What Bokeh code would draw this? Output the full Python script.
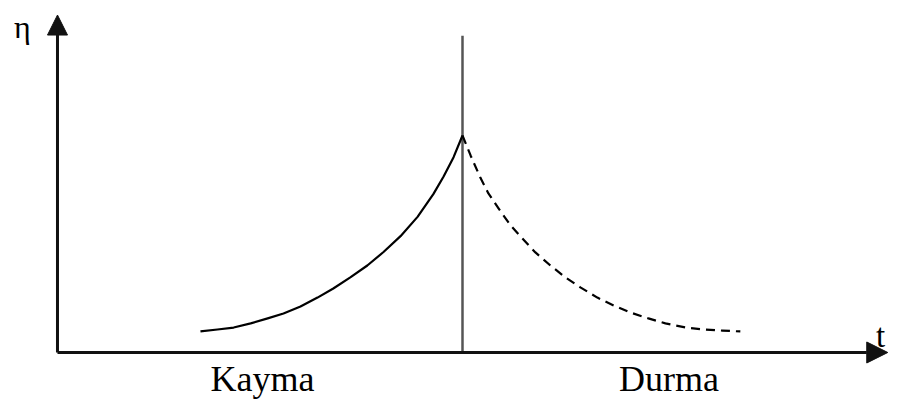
from bokeh.plotting import figure
from bokeh.models import Range1d, Arrow, NormalHead
from bokeh.core.properties import value
from bokeh.embed import file_html
from bokeh.resources import INLINE

# Shear (Kayma) phase: viscosity rising
shear_t = [3.53, 3.95, 4.35, 4.77, 5.19, 5.58, 6.0, 6.42, 6.81, 7.23, 7.65,
           8.05, 8.47, 8.89, 9.28, 9.53, 9.78, 10.0]
shear_eta = [0.97, 1.06, 1.15, 1.34, 1.57, 1.80, 2.12, 2.53, 2.95, 3.46, 4.01,
             4.63, 5.36, 6.25, 7.30, 8.10, 9.00, 10.0]

# Rest (Durma) phase: viscosity recovering
rest_t = [10.0, 10.20, 10.44, 10.64, 10.89, 11.19, 11.48, 11.80, 12.17, 12.54,
          12.91, 13.33, 13.73, 14.15, 14.59, 15.01, 15.51, 15.95, 16.42, 16.86]
rest_eta = [10.0, 9.08, 8.06, 7.33, 6.64, 5.85, 5.25, 4.61, 4.01, 3.46,
            3.00, 2.53, 2.17, 1.84, 1.57, 1.34, 1.15, 1.06, 1.01, 0.97]

switch_t = 10.0
switch_top = 14.6
t_axis_end = 20.5
eta_axis_end = 15.55

phase_labels = ["Kayma", "Durma"]
phase_label_t = [5.06, 15.1]
phase_label_eta = [-1.22, -1.22]

W, H = 889, 402
p = figure(width=W, height=H, output_backend="svg", toolbar_location=None,
           x_range=Range1d(-1.407, 20.543), y_range=Range1d(-2.304, 16.22),
           min_border=0, min_border_left=0, min_border_right=0,
           min_border_top=0, min_border_bottom=0)
p.axis.visible = False
p.grid.visible = False
p.outline_line_color = None
p.background_fill_color = "white"
p.border_fill_color = "white"

# axes with arrows
p.add_layout(Arrow(x_start=0, y_start=0, x_end=t_axis_end, y_end=0,
                   line_color="#111111", line_width=3,
                   end=NormalHead(size=21, fill_color="#111111", line_color="#111111", line_width=1)))
p.add_layout(Arrow(x_start=0, y_start=0, x_end=0, y_end=eta_axis_end,
                   line_color="#111111", line_width=3,
                   end=NormalHead(size=20, fill_color="#111111", line_color="#111111", line_width=1)))

# switch line
p.segment(x0=[switch_t], y0=[0], x1=[switch_t], y1=[switch_top],
          line_color="#555555", line_width=2.5)

p.line(shear_t, shear_eta, line_color="black", line_width=2.2, line_join="round")
p.line(rest_t, rest_eta, line_color="black", line_width=2.2, line_dash="9 6",
       line_join="round")

font = value("Liberation Serif")
p.text(x=phase_label_t, y=phase_label_eta, text=phase_labels, text_font=font,
       text_font_size="36px", text_align="center", text_baseline="alphabetic",
       text_color="black")
p.text(x=[-0.864], y=[14.98], text=["η"], text_font=font, text_font_size="32px",
       text_align="center", text_baseline="alphabetic", text_color="black")
p.text(x=[20.32], y=[0.74], text=["t"], text_font=font, text_font_size="33px",
       text_align="center", text_baseline="alphabetic", text_color="black")

open("out.html", "w").write(file_html(p, INLINE))
